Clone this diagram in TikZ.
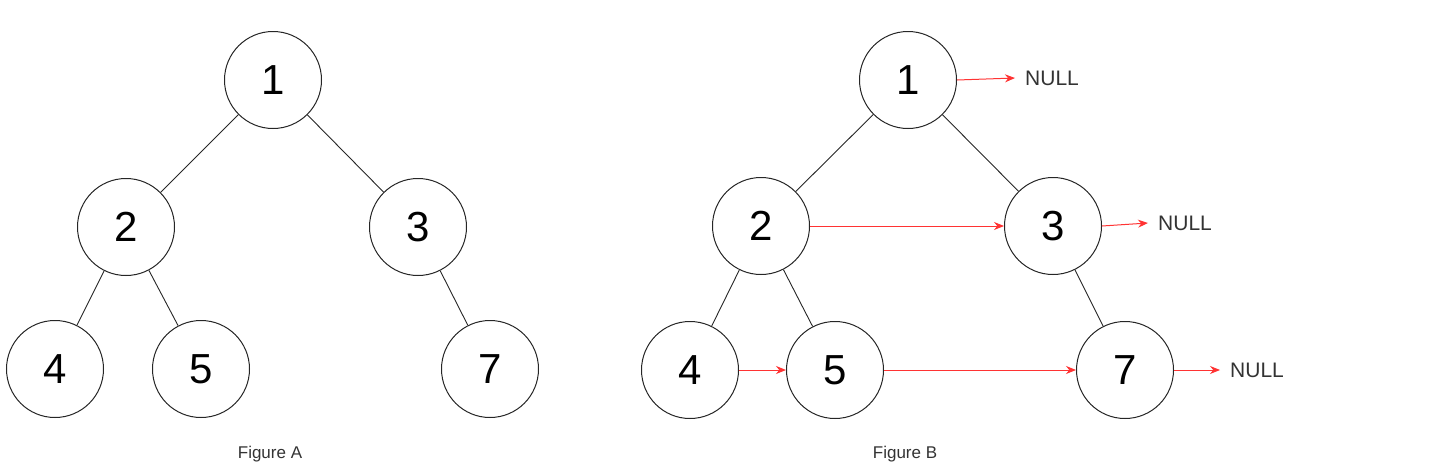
\documentclass[tikz,border=0pt]{standalone}
\usepackage{fontspec}
\setmainfont{Liberation Sans}
\usetikzlibrary{arrows.meta}
\definecolor{linkred}{HTML}{FF3333}
\definecolor{textgray}{HTML}{333333}
\tikzset{
  treenode/.style={circle, draw=black!85, line width=1pt, minimum size=97pt, inner sep=0pt,
    font=\fontsize{42}{42}\selectfont},
  edge/.style={draw=black!85, line width=0.9pt},
  link/.style={draw=linkred, line width=1pt, -{Stealth[length=10pt,width=8pt]}},
  nulltext/.style={anchor=west, inner xsep=10pt, inner ysep=0pt, text=textgray,
    font=\fontsize{21}{21}\selectfont},
  caption/.style={text=textgray, font=\fontsize{17}{17}\selectfont}
}
\begin{document}
\begin{tikzpicture}[x=1pt,y=-1pt]
\useasboundingbox (0,0) rectangle (1432,474);
% Figure A
\node[treenode] (a1) at (273,80) {1};
\node[treenode] (a2) at (126,227) {2};
\node[treenode] (a3) at (418,227) {3};
\node[treenode] (a4) at (55,369) {4};
\node[treenode] (a5) at (201,369) {5};
\node[treenode] (a7) at (490,369) {7};
\draw[edge] (a1) -- (a2);
\draw[edge] (a1) -- (a3);
\draw[edge] (a2) -- (a4);
\draw[edge] (a2) -- (a5);
\draw[edge] (a3) -- (a7);
\node[caption] (capA) at (270,454) {Figure A};
% Figure B
\node[treenode] (b1) at (908,80) {1};
\node[treenode] (b2) at (761,226) {2};
\node[treenode] (b3) at (1053,226) {3};
\node[treenode] (b4) at (690,370) {4};
\node[treenode] (b5) at (835,370) {5};
\node[treenode] (b7) at (1125,370) {7};
\draw[edge] (b1) -- (b2);
\draw[edge] (b1) -- (b3);
\draw[edge] (b2) -- (b4);
\draw[edge] (b2) -- (b5);
\draw[edge] (b3) -- (b7);
\node[nulltext] (null1) at (1015,78) {NULL};
\node[nulltext] (null3) at (1148,223) {NULL};
\node[nulltext] (null7) at (1220,370) {NULL};
\draw[link] (b1.east) -- (null1.west);
\draw[link] (b2.east) -- (b3.west);
\draw[link] (b3.east) -- (null3.west);
\draw[link] (b4.east) -- (b5.west);
\draw[link] (b5.east) -- (b7.west);
\draw[link] (b7.east) -- (null7.west);
\node[caption] (capB) at (905,454) {Figure B};
\end{tikzpicture}
\end{document}
